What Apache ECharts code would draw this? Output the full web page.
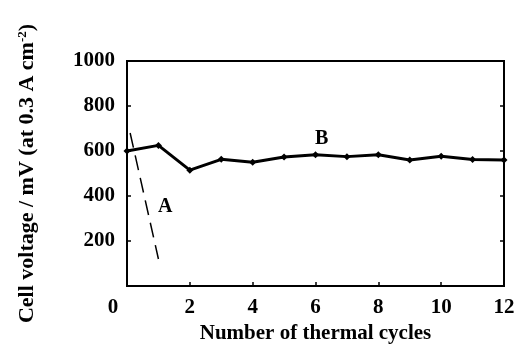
<!DOCTYPE html>
<html>
<head>
<meta charset="utf-8">
<script src="https://cdn.jsdelivr.net/npm/echarts@6/dist/echarts.min.js"></script>
<style>
  html, body { margin: 0; padding: 0; background: #fff; }
  #chart { width: 520px; height: 349px; }
</style>
</head>
<body>
<div id="chart"></div>
<script>
// cycles vs. cell voltage (mV)
var cyclesB = [0, 1, 2, 3, 4, 5, 6, 7, 8, 9, 10, 11, 12];
var voltB = [600, 625, 515, 563, 550, 573, 583, 575, 583, 560, 577, 562, 560];
var cyclesA = [0.1, 1.0];
var voltA = [680, 120];
var xTicks = [0, 2, 4, 6, 8, 10, 12];
var yTicks = [200, 400, 600, 800, 1000];

var font = '"Liberation Serif", "Times New Roman", serif';

var chart = echarts.init(document.getElementById('chart'));

var option = {
    animation: false,
    backgroundColor: '#fff',
    grid: {
        left: 127,
        right: 16,
        top: 61,
        bottom: 63,
        show: true,
        borderColor: '#000',
        borderWidth: 2
    },
    xAxis: {
        type: 'value',
        min: xTicks[0],
        max: xTicks[xTicks.length - 1],
        interval: 2,
        name: 'Number of thermal cycles',
        nameLocation: 'middle',
        nameGap: 37,
        nameTextStyle: { fontFamily: font, fontWeight: 'bold', fontSize: 21, color: '#000' },
        axisLine: { lineStyle: { color: '#000', width: 2 } },
        axisTick: { inside: true, length: 4, lineStyle: { color: '#000', width: 1.5 } },
        splitLine: { show: false },
        axisLabel: {
            margin: 11,
            fontFamily: font, fontWeight: 'bold', fontSize: 21, color: '#000',
            formatter: function (v) { return v === 0 ? '{z|0}' : String(v); },
            rich: { z: { fontFamily: font, fontWeight: 'bold', fontSize: 21, color: '#000', padding: [0, 28, 0, 0] } }
        }
    },
    yAxis: [{
        type: 'value',
        min: 0,
        max: yTicks[yTicks.length - 1],
        interval: 200,
        name: 'Cell voltage / mV (at 0.3 A cm{sup|-2})',
        nameLocation: 'middle',
        nameGap: 89,
        nameTextStyle: {
            fontFamily: font, fontWeight: 'bold', fontSize: 22, color: '#000',
            rich: { sup: { fontFamily: font, fontWeight: 'bold', fontSize: 13, color: '#000', verticalAlign: 'top', padding: [0, 0, 9, 0] } }
        },
        axisLine: { show: true, lineStyle: { color: '#000', width: 2 } },
        axisTick: { show: true, inside: true, length: 4, lineStyle: { color: '#000', width: 1.5 } },
        splitLine: { show: false },
        axisLabel: {
            margin: 12,
            fontFamily: font, fontWeight: 'bold', fontSize: 21, color: '#000',
            formatter: function (v) { return v === 0 ? '' : v; }
        }
    }, {
        type: 'value',
        position: 'right',
        min: 0,
        max: yTicks[yTicks.length - 1],
        interval: 200,
        axisLine: { show: true, lineStyle: { color: '#000', width: 2 } },
        axisTick: { show: true, inside: true, length: 4, lineStyle: { color: '#000', width: 1.5 } },
        axisLabel: { show: false },
        splitLine: { show: false }
    }],
    series: [{
        name: 'B',
        type: 'line',
        data: cyclesB.map(function (c, i) { return [c, voltB[i]]; }),
        symbol: 'diamond',
        symbolSize: 7,
        itemStyle: { color: '#000' },
        lineStyle: { color: '#000', width: 3 },
        markPoint: {
            symbolSize: 0,
            label: { show: true, formatter: '{b}', fontFamily: font, fontWeight: 'bold', fontSize: 20, color: '#000' },
            data: [{ name: 'B', coord: [6.2, 655] }]
        }
    }, {
        name: 'A',
        type: 'line',
        data: cyclesA.map(function (c, i) { return [c, voltA[i]]; }),
        symbol: 'none',
        lineStyle: { color: '#000', width: 1.5, type: [15, 8] },
        markPoint: {
            symbolSize: 0,
            label: { show: true, formatter: '{b}', fontFamily: font, fontWeight: 'bold', fontSize: 20, color: '#000' },
            data: [{ name: 'A', coord: [1.22, 352] }]
        }
    }]
};

chart.setOption(option);
</script>
</body>
</html>
